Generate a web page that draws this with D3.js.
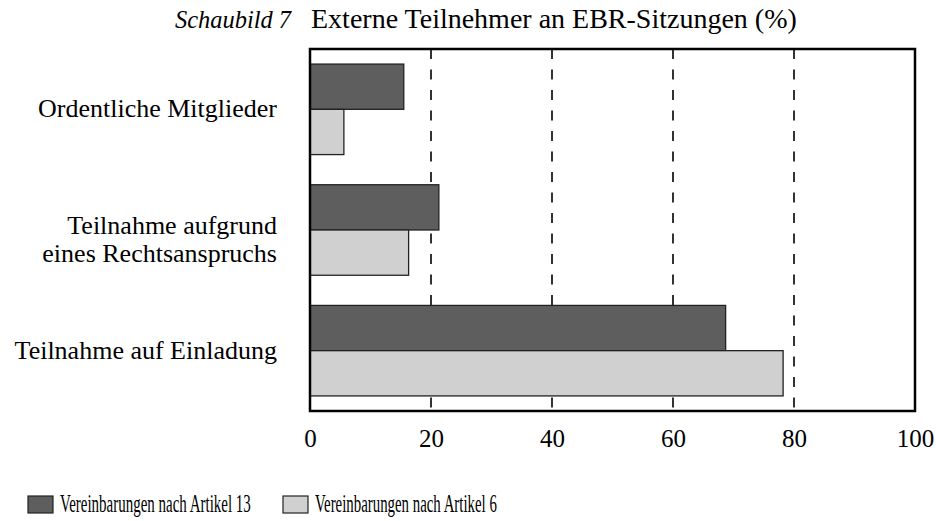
<!DOCTYPE html>
<html><head><meta charset="utf-8">
<script src="https://cdn.jsdelivr.net/npm/d3@7"></script>
<style>body{margin:0;background:#fff}svg{display:block}text{font-family:"Liberation Serif","Times New Roman",serif;fill:#000}</style>
</head><body>
<svg id="c" width="936" height="521"></svg>
<script>
const categories = ["Ordentliche Mitglieder", "Teilnahme aufgrund\neines Rechtsanspruchs", "Teilnahme auf Einladung"];
const seriesNames = ["Vereinbarungen nach Artikel 13", "Vereinbarungen nach Artikel 6"];
const art13 = [15.5, 21.3, 68.7];
const art6 = [5.6, 16.3, 78.2];
const xTicks = [0, 20, 40, 60, 80, 100];
const gridValues = [20, 40, 60, 80];
const colors = ["#5e5e5e", "#d0d0d0"];

const svg = d3.select("#c");
const L = 310, R = 915, T = 49, B = 411;
const x = d3.scaleLinear().domain([0, 100]).range([L, R]);
const y = d3.scaleBand().domain(categories).range([T, B]).paddingInner(0.25).paddingOuter(0.125);
const sub = d3.scaleBand().domain([0, 1]).range([0, y.bandwidth()]);
const FF = '"Liberation Serif","Times New Roman",serif';

// grid
svg.append("g").selectAll("line").data(gridValues).join("line")
  .attr("x1", d => x(d)).attr("x2", d => x(d)).attr("y1", T).attr("y2", B)
  .attr("stroke", "#000").attr("stroke-width", 1.6).attr("stroke-dasharray", "10,10.5");

// bars
const data = [];
categories.forEach((c, i) => { data.push({c, s: 0, v: art13[i]}); data.push({c, s: 1, v: art6[i]}); });
svg.append("g").selectAll("rect").data(data).join("rect")
  .attr("x", x(0)).attr("y", d => y(d.c) + sub(d.s))
  .attr("width", d => x(d.v) - x(0)).attr("height", sub.bandwidth())
  .attr("fill", d => colors[d.s]).attr("stroke", "#222").attr("stroke-width", 1.3);

// frame
svg.append("rect").attr("x", L).attr("y", T).attr("width", R - L).attr("height", B - T)
  .attr("fill", "none").attr("stroke", "#000").attr("stroke-width", 2.5);

// x axis
const ax = svg.append("g").attr("transform", `translate(0,${B})`)
  .call(d3.axisBottom(x).tickValues(xTicks).tickSize(0).tickPadding(18).tickFormat(d3.format("d")));
ax.select(".domain").remove();
ax.attr("font-family", null).attr("font-size", null);
ax.selectAll("text").style("font-family", FF).style("font-size", "25px").attr("fill", "#000");

// category labels
const lab = svg.append("g");
categories.forEach(c => {
  const lines = c.split("\n");
  const cy = y(c) + y.bandwidth() / 2;
  const t = lab.append("text").attr("text-anchor", "end").style("font-family", FF).style("font-size", "26px");
  lines.forEach((ln, j) => {
    const off = lines.length === 1 ? 8 : (j === 0 ? 4 : 32);
    t.append("tspan").attr("x", 277).attr("y", cy + off).text(ln);
  });
});

// title
svg.append("text").attr("x", 175).attr("y", 28).style("font-family", FF).style("font-size", "26px")
  .style("font-style", "italic").attr("textLength", 116).attr("lengthAdjust", "spacingAndGlyphs").text("Schaubild 7");
svg.append("text").attr("x", 311).attr("y", 28).style("font-family", FF).style("font-size", "28px")
  .text("Externe Teilnehmer an EBR-Sitzungen (%)");

// legend (text condensed horizontally as in the reference)
const legX = [28, 283], legTW = [191, 182];
seriesNames.forEach((n, i) => {
  svg.append("rect").attr("x", legX[i]).attr("y", 496).attr("width", 25).attr("height", 17)
    .attr("fill", colors[i]).attr("stroke", "#222").attr("stroke-width", 1.2);
  const t = svg.append("text").attr("x", 0).attr("y", 0).style("font-family", FF).style("font-size", "26px").text(n);
  const w = t.node().getComputedTextLength();
  t.attr("transform", `translate(${legX[i] + 32},512) scale(${legTW[i] / w},1)`);
});
</script>
</body></html>
